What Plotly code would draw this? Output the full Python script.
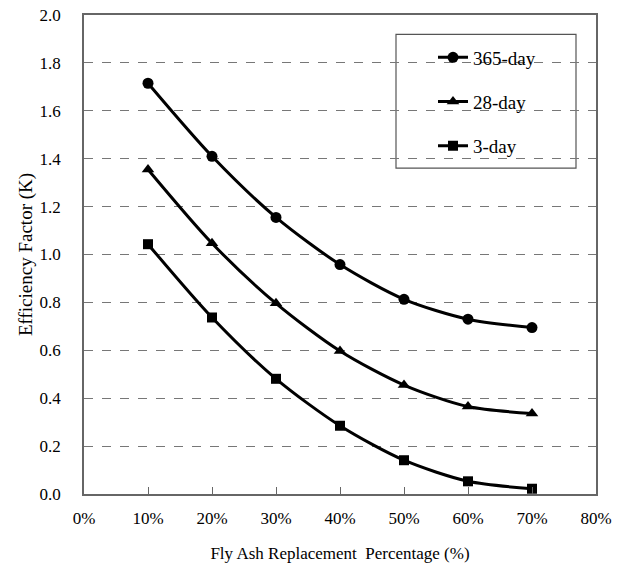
import plotly.graph_objects as go

replacement_pct = [10, 20, 30, 40, 50, 60, 70]
k_365_day = [1.715, 1.41, 1.155, 0.958, 0.813, 0.73, 0.695]
k_28_day = [1.355, 1.047, 0.796, 0.597, 0.455, 0.365, 0.336]
k_3_day = [1.043, 0.737, 0.481, 0.285, 0.141, 0.053, 0.022]

x_ticks = [0, 10, 20, 30, 40, 50, 60, 70, 80]
x_tick_labels = ["0%", "10%", "20%", "30%", "40%", "50%", "60%", "70%", "80%"]
y_ticks = [0.0, 0.2, 0.4, 0.6, 0.8, 1.0, 1.2, 1.4, 1.6, 1.8, 2.0]
y_tick_labels = ["0.0", "0.2", "0.4", "0.6", "0.8", "1.0", "1.2", "1.4", "1.6", "1.8", "2.0"]

series = [
    ("365-day", k_365_day, "circle"),
    ("28-day", k_28_day, "triangle-up"),
    ("3-day", k_3_day, "square"),
]

FONT = "Times New Roman"

# body margin is removed (post_script), so the figure fills the 622x563 window
PLOT_L, PLOT_R, PLOT_T, PLOT_B = 84, 596, 14.5, 494.5
W, H = 622, 563

fig = go.Figure()
for name, vals, sym in series:
    fig.add_trace(go.Scatter(
        x=replacement_pct, y=vals, name=name, mode="lines+markers",
        line=dict(color="black", width=3, shape="spline", smoothing=0.8),
        marker=dict(symbol=sym, size=11 if sym != "square" else 10, color="black"),
        legendgroup=name,
    ))

pw = PLOT_R - PLOT_L
ph = PLOT_B - PLOT_T

fig.update_layout(
    width=W, height=H,
    margin=dict(l=PLOT_L, r=W - PLOT_R, t=PLOT_T, b=H - PLOT_B),
    paper_bgcolor="white", plot_bgcolor="white",
    font=dict(family=FONT, size=17, color="black"),
    showlegend=True,
    legend=dict(
        x=(433 - PLOT_L) / pw, y=(PLOT_B - 38) / ph, xanchor="left", yanchor="top",
        bgcolor="rgba(0,0,0,0)", borderwidth=0,
        font=dict(family=FONT, size=19, color="black"),
        traceorder="grouped", tracegroupgap=16.5,
    ),
    shapes=[dict(
        type="rect", xref="paper", yref="paper",
        x0=(396 - PLOT_L) / pw, x1=(576 - PLOT_L) / pw,
        y0=(PLOT_B - 168) / ph, y1=(PLOT_B - 34) / ph,
        line=dict(color="#555555", width=1.2), fillcolor="white", layer="between",
    )],
)

fig.update_xaxes(
    range=[0, 80], tickvals=x_ticks, ticktext=x_tick_labels,
    ticks="inside", ticklen=7, tickcolor="#666666",
    showline=True, linecolor="#666666", linewidth=1.5, mirror=True,
    showgrid=False, zeroline=False, automargin=False,
    tickfont=dict(family=FONT, size=17, color="black"),
    ticklabelstandoff=8, ticklabeloverflow="allow",
    title=dict(text="Fly Ash Replacement  Percentage (%)", font=dict(family=FONT, size=17, color="black"), standoff=20),
)
fig.update_yaxes(
    range=[0, 2.0], tickvals=y_ticks, ticktext=y_tick_labels,
    ticks="", showline=True, linecolor="#666666", linewidth=1.5, mirror=True,
    showgrid=True, gridcolor="#777777", griddash="dash", gridwidth=1,
    zeroline=False, automargin=False,
    tickfont=dict(family=FONT, size=17, color="black"),
    ticklabelstandoff=18, ticklabeloverflow="allow",
    title=dict(text="Efficiency Factor (K)", font=dict(family=FONT, size=19, color="black"), standoff=2),
)

fig.write_html("out.html", config={"displayModeBar": False},
               post_script="document.body.style.margin='0px';")
